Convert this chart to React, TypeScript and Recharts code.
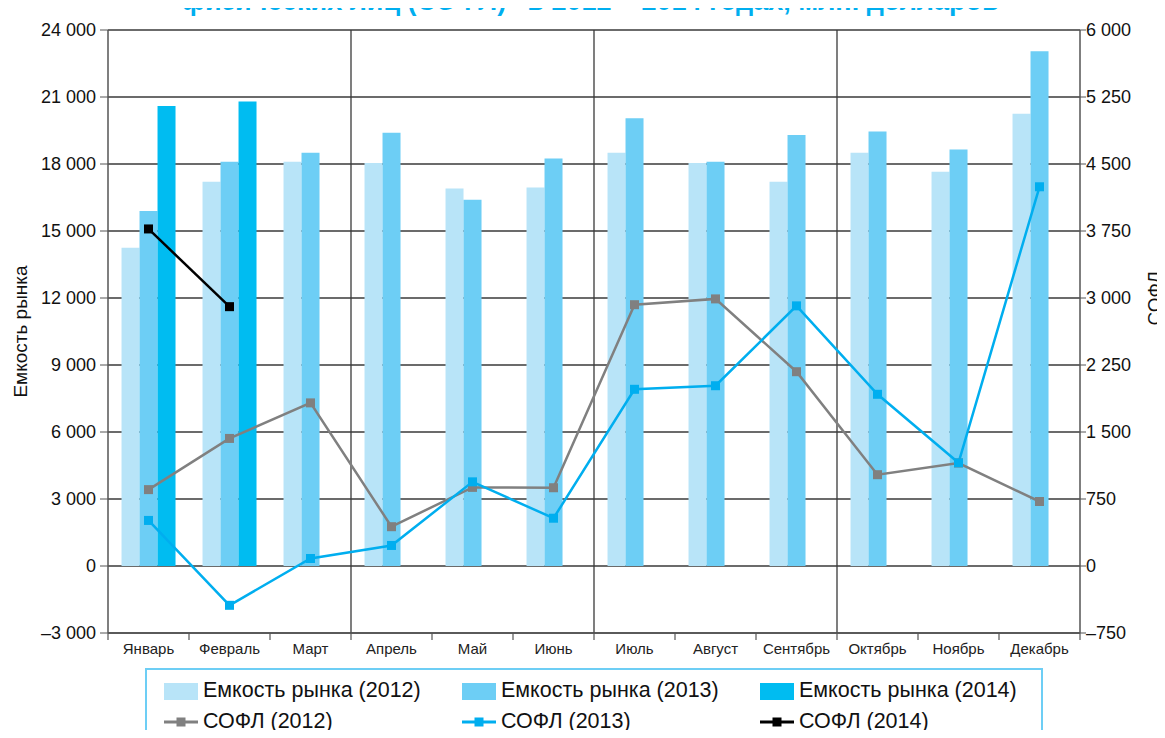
import React from 'react';
import { ComposedChart, Bar, Line, XAxis, YAxis, CartesianGrid, Legend } from 'recharts';

const months = ['Январь', 'Февраль', 'Март', 'Апрель', 'Май', 'Июнь', 'Июль', 'Август', 'Сентябрь', 'Октябрь', 'Ноябрь', 'Декабрь'];

// Емкость рынка, млн. долларов (left axis)
const capacity2012 = [14250, 17200, 18100, 18050, 16900, 16950, 18500, 18050, 17200, 18500, 17650, 20250];
const capacity2013 = [15900, 18100, 18500, 19400, 16400, 18250, 20050, 18100, 19300, 19450, 18650, 23050];
const capacity2014 = [20600, 20800, null, null, null, null, null, null, null, null, null, null];

// СОФЛ (right axis)
const sofl2012 = [855, 1428, 1826, 440, 880, 876, 2925, 2990, 2175, 1022, 1153, 722];
const sofl2013 = [510, -440, 84, 230, 942, 535, 1978, 2018, 2912, 1922, 1155, 4245];
const sofl2014 = [3773, 2903, null, null, null, null, null, null, null, null, null, null];

const leftTicks = [-3000, 0, 3000, 6000, 9000, 12000, 15000, 18000, 21000, 24000];
const rightTicks = [-750, 0, 750, 1500, 2250, 3000, 3750, 4500, 5250, 6000];

const chartData = months.map((month, i) => ({
    month,
    cap2012: capacity2012[i],
    cap2013: capacity2013[i],
    cap2014: capacity2014[i],
    sofl2012: sofl2012[i],
    sofl2013: sofl2013[i],
    sofl2014: sofl2014[i],
}));

const colors = {
    cap2012: '#b8e4f8',
    cap2013: '#6dcef5',
    cap2014: '#00bcf1',
    sofl2012: '#808080',
    sofl2013: '#00aeef',
    sofl2014: '#000000',
};

const font = '"Liberation Sans", Arial, sans-serif';

const formatNumber = (v: number) => {
    const s = Math.abs(v).toString().replace(/\B(?=(\d{3})+(?!\d))/g, ' ');
    return v < 0 ? '\u2013' + s : s;
};

const SquareDot = (color: string) => (props: any) => {
    const { cx, cy, index, value } = props;
    if (cx == null || cy == null || value == null) return <g key={`d-${index}`} />;
    return <rect key={`d-${index}`} x={cx - 4.5} y={cy - 4.5} width={9} height={9} fill={color} />;
};

const MonthTick = (props: any) => {
    const { x, y, payload, index } = props;
    const half = payload && payload.offset ? payload.offset : 40.5;
    return (
        <g>
            <line x1={x - half} y1={y} x2={x - half} y2={y + 7} stroke="#555" strokeWidth={1.2} />
            {index === months.length - 1 && (
                <line x1={x + half} y1={y} x2={x + half} y2={y + 7} stroke="#555" strokeWidth={1.2} />
            )}
            <text x={x} y={y + 21} textAnchor="middle" fontSize={15} fontFamily={font} fill="#222">
                {payload.value}
            </text>
        </g>
    );
};

const AxisTitle = (text: string, dx: number, yFrac: number) => (props: any) => {
    const vb = props.viewBox || {};
    const x = vb.x + dx;
    const y = vb.y + vb.height * yFrac;
    return (
        <text
            x={x}
            y={y}
            transform={`rotate(-90 ${x} ${y})`}
            textAnchor="middle"
            dominantBaseline="central"
            fontSize={19}
            fontFamily={font}
            fill="#111"
        >
            {text}
        </text>
    );
};

const legendRows = [
    [
        { key: 'cap2012', label: 'Емкость рынка (2012)', kind: 'bar' },
        { key: 'cap2013', label: 'Емкость рынка (2013)', kind: 'bar' },
        { key: 'cap2014', label: 'Емкость рынка (2014)', kind: 'bar' },
    ],
    [
        { key: 'sofl2012', label: 'СОФЛ (2012)', kind: 'line' },
        { key: 'sofl2013', label: 'СОФЛ (2013)', kind: 'line' },
        { key: 'sofl2014', label: 'СОФЛ (2014)', kind: 'line' },
    ],
];

const LegendBox = () => (
    <div
        style={{
            width: 898,
            height: 72,
            boxSizing: 'border-box',
            border: '2px solid #6dcef5',
            borderBottom: 'none',
            paddingTop: 5,
            fontFamily: font,
            fontSize: 21.5,
            color: '#111',
        }}
    >
        {legendRows.map((row, r) => (
            <div key={r} style={{ display: 'flex', height: 31, alignItems: 'center' }}>
                {row.map((item) => {
                    const c = (colors as any)[item.key];
                    return (
                        <div key={item.key} style={{ width: 298, display: 'flex', alignItems: 'center', paddingLeft: 16 }}>
                            <svg width={36} height={18} style={{ marginRight: 4 }}>
                                {item.kind === 'bar' ? (
                                    <rect x={1} y={1} width={34} height={17} fill={c} />
                                ) : (
                                    <>
                                        <line x1={1} y1={9} x2={35} y2={9} stroke={c} strokeWidth={3} />
                                        <rect x={13.5} y={4.5} width={9} height={9} fill={c} />
                                    </>
                                )}
                            </svg>
                            <span>{item.label}</span>
                        </div>
                    );
                })}
            </div>
        ))}
    </div>
);

export default function App() {
    return (
        <div style={{ position: 'relative', width: 1165, height: 738, margin: -8, overflow: 'hidden', background: '#fff' }}>
            <svg width={1165} height={30} style={{ position: 'absolute', left: 0, top: 0, zIndex: 2 }}>
                <text x={590} y={10} textAnchor="middle" fontSize={27} fontWeight="bold" fontFamily={font} fill="#00aeef">
                    физических лиц (СОФЛ)” в 2012 – 2014 годах, млн. долларов
                </text>
            </svg>
            <ComposedChart
                width={1165}
                height={738}
                data={chartData}
                margin={{ top: 30, right: 0, left: 0, bottom: 3 }}
                barCategoryGap="16.7%"
                barGap={0}
            >
                <CartesianGrid
                    yAxisId="left"
                    stroke="#3a3a3a"
                    strokeWidth={1.3}
                    verticalCoordinatesGenerator={({ offset }: any) =>
                        [1, 2, 3].map((k) => offset.left + (offset.width * k) / 4)
                    }
                />
                <XAxis
                    dataKey="month"
                    xAxisId={0}
                    tick={<MonthTick />}
                    tickLine={false}
                    tickSize={0}
                    tickMargin={0}
                    height={30}
                    axisLine={{ stroke: '#555', strokeWidth: 1.5 }}
                    interval={0}
                />
                <YAxis
                    yAxisId="left"
                    orientation="left"
                    width={108}
                    domain={[-3000, 24000]}
                    ticks={leftTicks}
                    tickFormatter={formatNumber}
                    tick={{ fontSize: 18, fontFamily: font, fill: '#111' }}
                    tickSize={8}
                    tickMargin={4}
                    tickLine={{ stroke: '#555' }}
                    axisLine={{ stroke: '#555', strokeWidth: 1.5 }}
                    label={AxisTitle('Емкость рынка', 20, 0.5)}
                    allowDataOverflow
                />
                <YAxis
                    yAxisId="right"
                    orientation="right"
                    width={85}
                    domain={[-750, 6000]}
                    ticks={rightTicks}
                    tickFormatter={formatNumber}
                    tick={{ fontSize: 18, fontFamily: font, fill: '#111' }}
                    tickSize={6}
                    tickMargin={0}
                    tickLine={{ stroke: '#555' }}
                    axisLine={{ stroke: '#555', strokeWidth: 1.5 }}
                    label={AxisTitle('СОФЛ', 75, 0.445)}
                    allowDataOverflow
                />
                <Bar yAxisId="left" dataKey="cap2012" name="Емкость рынка (2012)" fill={colors.cap2012} isAnimationActive={false} />
                <Bar yAxisId="left" dataKey="cap2013" name="Емкость рынка (2013)" fill={colors.cap2013} isAnimationActive={false} />
                <Bar yAxisId="left" dataKey="cap2014" name="Емкость рынка (2014)" fill={colors.cap2014} isAnimationActive={false} />
                <Line
                    yAxisId="right"
                    dataKey="sofl2012"
                    name="СОФЛ (2012)"
                    stroke={colors.sofl2012}
                    strokeWidth={2.5}
                    dot={SquareDot(colors.sofl2012)}
                    activeDot={false}
                    isAnimationActive={false}
                />
                <Line
                    yAxisId="right"
                    dataKey="sofl2013"
                    name="СОФЛ (2013)"
                    stroke={colors.sofl2013}
                    strokeWidth={2.5}
                    dot={SquareDot(colors.sofl2013)}
                    activeDot={false}
                    isAnimationActive={false}
                />
                <Line
                    yAxisId="right"
                    dataKey="sofl2014"
                    name="СОФЛ (2014)"
                    stroke={colors.sofl2014}
                    strokeWidth={2.5}
                    dot={SquareDot(colors.sofl2014)}
                    activeDot={false}
                    isAnimationActive={false}
                />
                <Legend
                    content={<LegendBox />}
                    wrapperStyle={{ left: 145, top: 668, width: 898, height: 72, bottom: 'auto' }}
                />
            </ComposedChart>
        </div>
    );
}
